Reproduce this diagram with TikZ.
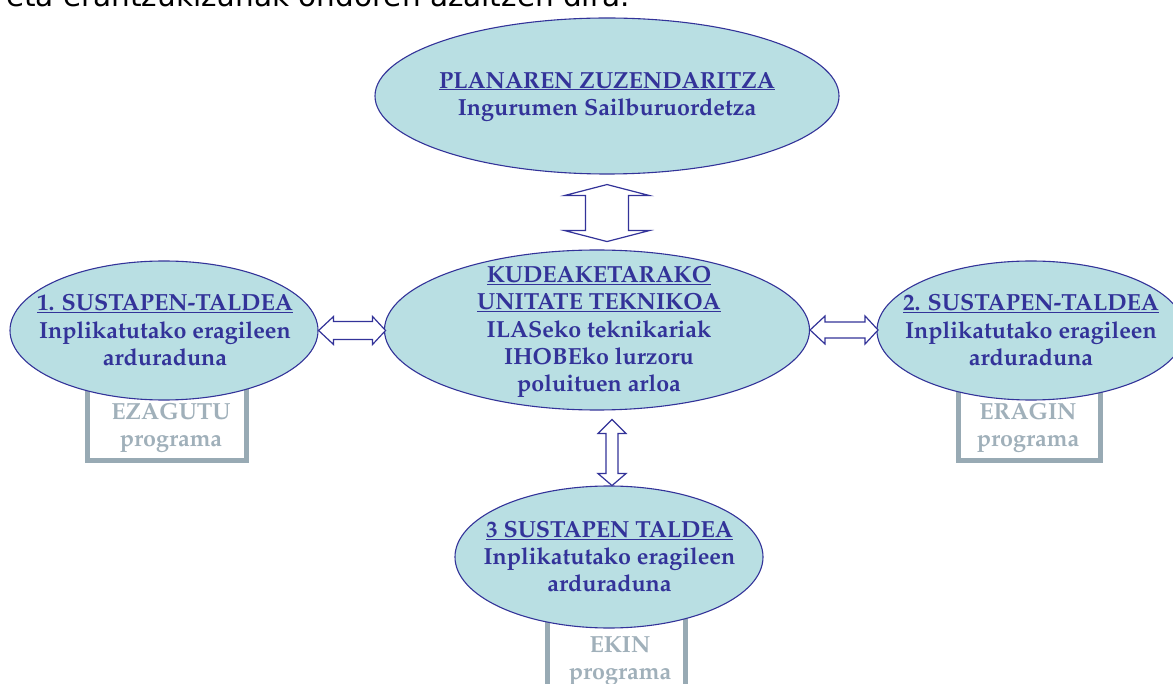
\documentclass[tikz,border=0pt]{standalone}
\usepackage[T1]{fontenc}
\usepackage{fontspec}
\newfontfamily\introfont{DejaVu Sans}
\usetikzlibrary{shapes.geometric,calc}
\definecolor{ellfill}{RGB}{185,223,227}
\definecolor{navy}{RGB}{51,51,153}
\definecolor{boxgrey}{RGB}{152,170,180}
\definecolor{progtextc}{RGB}{160,176,186}
\newcommand\palbold{\fontencoding{T1}\fontfamily{ppl}\fontseries{b}\fontshape{n}\fontsize{23.3}{27.3}\selectfont}
\begin{document}
\begin{tikzpicture}[x=1pt,y=-1pt,
  ell/.style={ellipse, draw=navy, line width=1.1pt, fill=ellfill, inner sep=0pt},
  elltxt/.style={align=center, text=navy, font=\palbold, inner sep=0pt},
  progbox/.style={draw=boxgrey, line width=5pt, fill=white, inner sep=0pt},
  progtxt/.style={align=center, text=progtextc, font=\palbold, inner sep=0pt},
  blockarrow/.style={draw=navy, fill=white, line width=1.2pt, line join=miter}]
\useasboundingbox (0,0) rectangle (1173,684);
\clip (0,0) rectangle (1173,684);
\fill[white] (0,0) rectangle (1173,684);

% intro text (cut at top)
\node[anchor=base west, inner sep=0pt, font=\introfont\fontsize{29.5}{32}\selectfont] (intro) at (6,7) {eta erantzukizunak ondoren azaltzen dira.};

% program boxes (behind ellipses)
\node[progbox, minimum width=159pt, minimum height=100pt] (p1) at (167,410.5) {};
\node[progbox, minimum width=142pt, minimum height=100pt] (p2) at (1029.5,410.5) {};
\node[progbox, minimum width=138pt, minimum height=110pt] (p3) at (616.5,660) {};
\node[progtxt] (p1t) at (171,427.5) {EZAGUTU\\programa};
\node[progtxt] (p2t) at (1028,427.5) {ERAGIN\\programa};
\node[progtxt] (p3t) at (620,661.5) {EKIN\\programa};

% ellipses
\node[ell, minimum width=464pt, minimum height=156pt] (dir) at (607,96) {};
\node[ell, minimum width=425pt, minimum height=160pt] (ctu) at (597,330) {};
\node[ell, minimum width=308pt, minimum height=139pt] (s1) at (164,330.5) {};
\node[ell, minimum width=308pt, minimum height=139pt] (s2) at (1031,330.5) {};
\node[ell, minimum width=308pt, minimum height=142pt] (s3) at (609,557) {};

\node[elltxt] (dirt) at (607,96.5) {\underline{PLANAREN ZUZENDARITZA}\\Ingurumen Sailburuordetza};
\node[elltxt] (ctut) at (599,332) {\underline{KUDEAKETARAKO}\\\underline{UNITATE TEKNIKOA}\\ILASeko teknikariak\\IHOBEko lurzoru\\poluituen arloa};
\node[elltxt] (s1t) at (165,330) {\underline{1. SUSTAPEN-TALDEA}\\Inplikatutako eragileen\\arduraduna};
\node[elltxt] (s2t) at (1031,330) {\underline{2. SUSTAPEN-TALDEA}\\Inplikatutako eragileen\\arduraduna};
\node[elltxt] (s3t) at (609.5,556.5) {\underline{3 SUSTAPEN TALDEA}\\Inplikatutako eragileen\\arduraduna};

% connector end points
\coordinate (ta1) at ($(dir.south)+(0,10)$);
\coordinate (ta2) at ($(ta1)+(0,57)$);
\coordinate (la1) at (s1.east);
\coordinate (la2) at ($(la1)+(67,0)$);
\coordinate (ra1) at (ctu.east);
\coordinate (ra2) at ($(ra1)+(68,0)$);
\coordinate (ba1) at ($(ctu.south)+(15,9)$);
\coordinate (ba2) at ($(ba1)+(0,66)$);

% block double arrows
\draw[blockarrow] (ta1) -- ++(42.5,11) -- ++(-21,0) -- ++(0,35) -- ++(21,0) -- (ta2)
  -- ++(-42.5,-11) -- ++(21,0) -- ++(0,-35) -- ++(-21,0) -- cycle;
\draw[blockarrow] (la1) -- ++(15,-14) -- ++(0,5) -- ++(39,0) -- ++(0,-5) -- (la2)
  -- ++(-13,14) -- ++(0,-5) -- ++(-39,0) -- ++(0,5) -- cycle;
\draw[blockarrow] (ra1) -- ++(15,-14) -- ++(0,6) -- ++(40,0) -- ++(0,-6) -- (ra2)
  -- ++(-13,14) -- ++(0,-6) -- ++(-40,0) -- ++(0,6) -- cycle;
\draw[blockarrow] (ba1) -- ++(14,14) -- ++(-8,0) -- ++(0,40) -- ++(8,0) -- (ba2)
  -- ++(-14,-12) -- ++(8,0) -- ++(0,-40) -- ++(-8,0) -- cycle;
\end{tikzpicture}
\end{document}
